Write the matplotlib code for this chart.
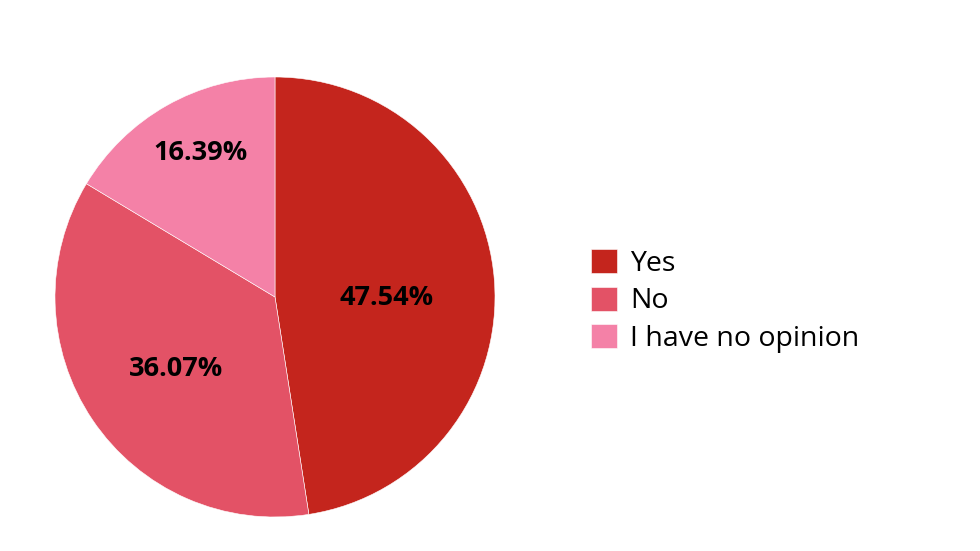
import matplotlib.pyplot as plt

labels = ["Yes", "No", "I have no opinion"]
shares = [47.54, 36.07, 16.39]
colors = ["#C4251D", "#E35266", "#F481A7"]

# where the percent labels sit, in pie radius units
label_pos = [(0.505, -0.005), (-0.45, -0.327), (-0.34, 0.655)]

plt.rcParams["font.family"] = ["Open Sans", "DejaVu Sans"]

fig = plt.figure(figsize=(9.8, 5.51), dpi=100)
ax = fig.add_axes([55 / 980, 34 / 551, 440 / 980, 440 / 551])

wedges, texts, autotexts = ax.pie(
  shares, colors=colors, startangle=90, counterclock=False,
  autopct="%.2f%%", pctdistance=0.5, radius=1,
  wedgeprops=dict(linewidth=0.4, edgecolor="white"),
  textprops=dict(fontsize=19.5, fontweight="bold", color="black"))

for t, pos in zip(autotexts, label_pos):
  t.set_position(pos)
  t.set_ha("center")
  t.set_va("center")

ax.set_xlim(-1, 1)
ax.set_ylim(-1, 1)
ax.set_aspect("equal")

fig.legend(wedges, labels, loc="center left",
           bbox_to_anchor=(591 / 980, 1 - 301 / 551), frameon=False,
           fontsize=20.5, handlelength=0.92, handleheight=0.92,
           handletextpad=0.45, labelspacing=0.31, borderpad=0,
           borderaxespad=0)

fig.savefig("out.png", dpi=100)
